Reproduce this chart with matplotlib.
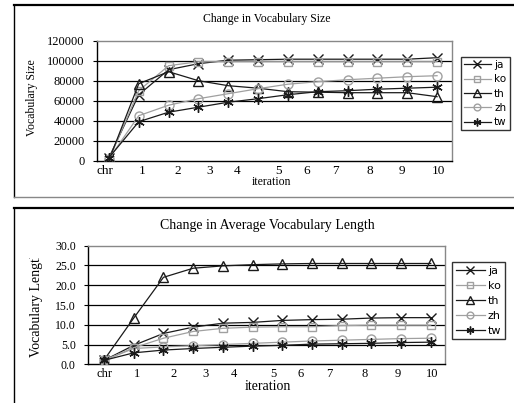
import matplotlib
matplotlib.use("Agg")
import matplotlib.pyplot as plt
import numpy as np
from matplotlib.transforms import Bbox, TransformedBbox
from matplotlib.lines import Line2D

# series names and x categories
langs = ["ja", "ko", "th", "zh", "tw"]
iter_labels = ["chr", "1", "2", "3", "4", "5", "6", "7", "8", "9", "10"]

# vocabulary size per iteration step (12 points per series)
size_ja = [3000, 66000, 91000, 97000, 100500, 101000, 101500, 101500, 101500, 101500, 101500, 103000]
size_ko = [1000, 70000, 95000, 99000, 99000, 99000, 99000, 99000, 99000, 99000, 99000, 99000]
size_th = [500, 77000, 89000, 80000, 75000, 72500, 69000, 68500, 68000, 68000, 68000, 64000]
size_zh = [2000, 45000, 55500, 62000, 67000, 72000, 76500, 79000, 81000, 82500, 84000, 85000]
size_tw = [3000, 39000, 48500, 53500, 58500, 62000, 66000, 69000, 70000, 71500, 72500, 73500]

# average vocabulary length per iteration step
len_ja = [1.0, 4.8, 7.8, 9.4, 10.4, 10.6, 11.1, 11.3, 11.4, 11.7, 11.8, 11.8]
len_ko = [1.0, 4.2, 6.6, 8.3, 9.1, 9.4, 9.5, 9.5, 9.8, 9.9, 9.9, 9.9]
len_th = [1.1, 11.7, 22.0, 24.3, 24.9, 25.2, 25.4, 25.5, 25.5, 25.5, 25.5, 25.5]
len_zh = [1.0, 4.0, 4.4, 4.7, 5.0, 5.3, 5.6, 5.9, 6.1, 6.3, 6.5, 6.6]
len_tw = [1.0, 2.9, 3.6, 4.0, 4.3, 4.6, 4.8, 5.1, 5.2, 5.3, 5.5, 5.6]

# where the category labels sit (they are not lined up with the points)
lab_pos1 = [-0.13, 1.10, 2.32, 3.36, 4.30, 5.68, 6.63, 7.58, 8.75, 9.81, 11.04]
lab_pos2 = [0.0, 1.12, 2.34, 3.43, 4.38, 5.70, 6.62, 7.59, 8.79, 9.89, 11.06]

W, H = 514, 403
DARK = "#1a1a1a"
GRAY = "#a0a0a0"
SERIF = "Liberation Serif"

styles = {
    "ja": dict(color=DARK, marker="x", mfc="none", mec=DARK, ms=7, mew=1.0),
    "ko": dict(color=GRAY, marker="s", mfc="none", mec=GRAY, ms=6, mew=1.0),
    "th": dict(color=DARK, marker="^", mfc="none", mec=DARK, ms=7.5, mew=1.0),
    "zh": dict(color=GRAY, marker="o", mfc="none", mec=GRAY, ms=6.5, mew=1.0),
    "tw": dict(color=DARK, marker=(6, 2, 0), mfc="none", mec=DARK, ms=7.5, mew=1.0),
}


def px_rect(l, t, r, b):
    return [l / W, 1 - b / H, (r - l) / W, (b - t) / H]


fig = plt.figure(figsize=(W / 100, H / 100), dpi=100)

# outer frames around each chart
def frame(t, b):
    fig.add_artist(Line2D([14 / W, 1.01], [1 - t / H] * 2, color="black", lw=1.6, transform=fig.transFigure))
    fig.add_artist(Line2D([14 / W] * 2, [1 - t / H, 1 - b / H], color="black", lw=1.0, transform=fig.transFigure))
    if b < H:
        fig.add_artist(Line2D([14 / W, 1.01], [1 - b / H] * 2, color="#888888", lw=1.0, transform=fig.transFigure))

frame(5, 197)
frame(208, 410)


def draw_chart(ax, series, ylim, yticks, yfmt, xlim, lab_pos, fs_tick):
    x = np.arange(len(series[0]))
    handles = []
    for name, vals in zip(langs, series):
        h, = ax.plot(x, vals, lw=0.9, label=name, **styles[name], zorder=3)
        handles.append(h)
    ax.set_xlim(*xlim)
    ax.set_ylim(*ylim)
    ax.set_yticks(yticks)
    ax.set_yticklabels([yfmt.format(v) for v in yticks], fontfamily=SERIF, fontsize=fs_tick)
    for v in yticks[1:-1]:
        ax.axhline(v, color="black", lw=0.9, zorder=1)
    ax.set_xticks(lab_pos)
    ax.set_xticklabels(iter_labels, fontfamily=SERIF, fontsize=fs_tick + 0.5)
    ax.tick_params(axis="x", length=0, pad=3)
    ax.tick_params(axis="y", length=3, width=0.8, pad=6)
    for s in ["top", "right"]:
        ax.spines[s].set_color("#888888")
        ax.spines[s].set_linewidth(1.0)
    for s in ["left", "bottom"]:
        ax.spines[s].set_color("black")
        ax.spines[s].set_linewidth(1.0)
    ax.set_facecolor("white")
    return handles


# ---- chart 1: vocabulary size
ax1 = fig.add_axes(px_rect(97, 40.7, 452, 160.7))
h1 = draw_chart(ax1, [size_ja, size_ko, size_th, size_zh, size_tw],
                (0, 120000), list(range(0, 120001, 20000)), "{:d}",
                (-0.40, 11.50), lab_pos1, 9)
fig.text(267 / W, 1 - 19 / H, "Change in Vocabulary Size", ha="center", va="center",
         fontfamily=SERIF, fontsize=8.5)
fig.text(31.5 / W, 1 - 98 / H, "Vocabulary Size", rotation=90, ha="center", va="center",
         fontfamily=SERIF, fontsize=8.5)
fig.text(272 / W, 1 - 182 / H, "iteration", ha="center", va="center",
         fontfamily=SERIF, fontsize=8.5)
leg1 = fig.legend(handles=h1, loc="upper left", bbox_to_anchor=(460.7 / W, 1 - 56.7 / H),
                  borderaxespad=0, frameon=True, fancybox=False, edgecolor="black",
                  prop={"family": "DejaVu Sans", "size": 7.5}, handlelength=2.6,
                  handletextpad=0.3, labelspacing=0.42, borderpad=0.3, markerscale=0.75)
leg1.get_frame().set_linewidth(1.0)

# ---- chart 2: average vocabulary length
ax2 = fig.add_axes(px_rect(88.3, 245.7, 445, 364.3))
h2 = draw_chart(ax2, [len_ja, len_ko, len_th, len_zh, len_tw],
                (0, 30), [0, 5, 10, 15, 20, 25, 30], "{:.1f}",
                (-0.53, 11.48), lab_pos2, 8.5)
fig.text(267.5 / W, 1 - 225 / H, "Change in Average Vocabulary Length", ha="center", va="center",
         fontfamily=SERIF, fontsize=10)
ylab2 = fig.text(36.5 / W, 1 - 304 / H, "Vocabulary Length", rotation=90, ha="center", va="center",
                 fontfamily=SERIF, fontsize=10)
# the original label is cut off at the top
ylab2.set_clip_box(TransformedBbox(Bbox([[0, 0], [1, 1 - 258 / H]]), fig.transFigure))
ylab2.set_clip_on(True)
fig.text(268 / W, 1 - 387 / H, "iteration", ha="center", va="center",
         fontfamily=SERIF, fontsize=10)
leg2 = fig.legend(handles=h2, loc="upper left", bbox_to_anchor=(452.3 / W, 1 - 262.3 / H),
                  borderaxespad=0, frameon=True, fancybox=False, edgecolor="black",
                  prop={"family": "DejaVu Sans", "size": 8}, handlelength=2.6,
                  handletextpad=0.3, labelspacing=0.45, borderpad=0.3, markerscale=0.75)
leg2.get_frame().set_linewidth(1.0)

fig.savefig("out.png", dpi=100, facecolor="white")
